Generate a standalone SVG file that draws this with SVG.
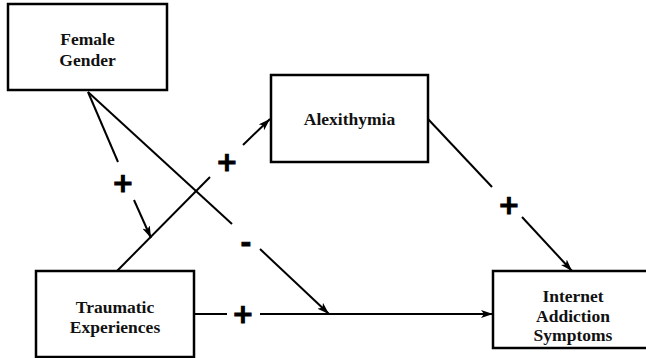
<svg xmlns="http://www.w3.org/2000/svg" width="646" height="358" viewBox="0 0 646 358">
<defs>
<marker id="ah" viewBox="0 0 12 8" refX="12" refY="4" markerWidth="12" markerHeight="8" markerUnits="userSpaceOnUse" orient="auto">
<path d="M0,0 L12,4 L0,8 L3,4 Z" fill="#000"/>
</marker>
<style>
.box{fill:#fff;stroke:#000;stroke-width:2.5}
.lbl{font-family:'Liberation Serif','DejaVu Serif',serif;font-weight:bold;font-size:17.5px;fill:#111;text-anchor:middle}
.ln{stroke:#000;stroke-width:2;fill:none}
.sg{font-family:'DejaVu Sans',sans-serif;font-weight:bold;font-size:26px;fill:#000;text-anchor:middle;stroke:#000;stroke-width:1}
</style>
</defs>
<rect width="646" height="358" fill="#fff"/>
<g id="connectors">
<line class="ln" x1="88" y1="92" x2="118" y2="162"/>
<line class="ln" x1="134" y1="200" x2="151" y2="238" marker-end="url(#ah)"/>
<line class="ln" x1="88" y1="92" x2="232" y2="224"/>
<line class="ln" x1="260" y1="249" x2="329" y2="314" marker-end="url(#ah)"/>
<line class="ln" x1="117" y1="271" x2="210" y2="177"/>
<line class="ln" x1="243" y1="145" x2="270" y2="119" marker-end="url(#ah)"/>
<line class="ln" x1="194" y1="314" x2="227" y2="314"/>
<line class="ln" x1="260" y1="314" x2="493" y2="314" marker-end="url(#ah)"/>
<line class="ln" x1="428" y1="119" x2="492" y2="187"/>
<line class="ln" x1="522" y1="217" x2="572" y2="271" marker-end="url(#ah)"/>
<text class="sg" x="123" y="192">+</text>
<text class="sg" x="227" y="171">+</text>
<text class="sg" x="246" y="252">-</text>
<text class="sg" x="243" y="323">+</text>
<text class="sg" x="509" y="214">+</text>
</g>
<g id="female-gender">
<rect class="box" x="8" y="4" width="159" height="86"/>
<text class="lbl" x="87.5" y="45">Female</text>
<text class="lbl" x="87.5" y="66">Gender</text>
</g>
<g id="alexithymia">
<rect class="box" x="271" y="75" width="157" height="87"/>
<text class="lbl" x="349.5" y="125">Alexithymia</text>
</g>
<g id="traumatic-experiences">
<rect class="box" x="36" y="271" width="158" height="86"/>
<text class="lbl" x="115" y="313">Traumatic</text>
<text class="lbl" x="115" y="333">Experiences</text>
</g>
<g id="internet-addiction-symptoms">
<rect class="box" x="493" y="271" width="160" height="77"/>
<text class="lbl" x="573" y="302">Internet</text>
<text class="lbl" x="573" y="322">Addiction</text>
<text class="lbl" x="573" y="341">Symptoms</text>
</g>
</svg>
